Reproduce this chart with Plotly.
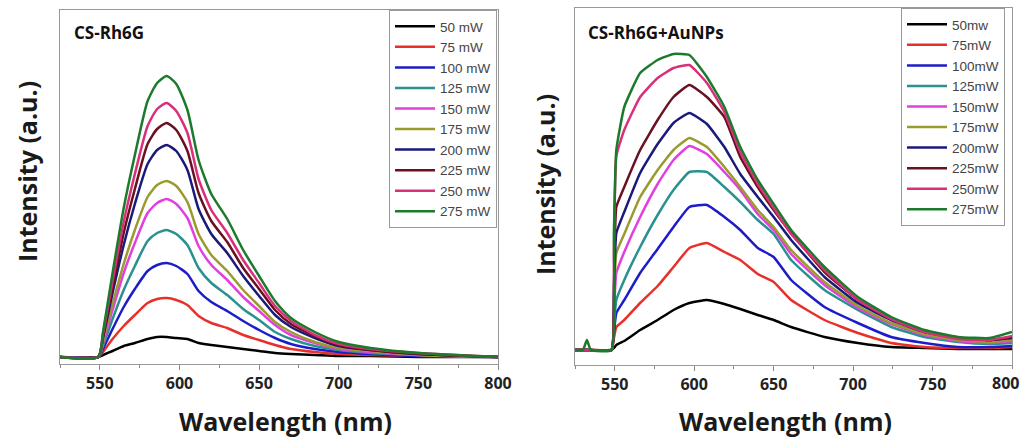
import plotly.graph_objects as go

# ---------------- data (arbitrary intensity units) ----------------
powers_left = ["50 mW", "75 mW", "100 mW", "125 mW", "150 mW", "175 mW",
               "200 mW", "225 mW", "250 mW", "275 mW"]
powers_right = ["50mw", "75mW", "100mW", "125mW", "150mW", "175mW",
                "200mW", "225mW", "250mW", "275mW"]
colors = ["#000000", "#e8302a", "#1c1cc8", "#2a9090", "#e040e0", "#9a9a2e",
          "#1a1a7a", "#6a1020", "#d8307a", "#1c7a2c"]

wl_left = [525, 549, 552, 558, 565, 572, 580, 586, 592, 598, 605, 612, 620, 630,
           640, 650, 660, 670, 685, 700, 720, 750, 800]
left_50 = [2, 2, 4, 8, 13, 16, 20, 22, 22, 21, 20, 16, 14, 12, 10, 8, 6, 5, 4, 3, 3, 2, 2]
left_75 = [2, 2, 7, 20, 33, 44, 56, 60, 61, 59, 54, 43, 36, 31, 24, 19, 14, 10, 7, 5, 4, 3, 2]
left_100 = [2, 2, 10, 30, 52, 70, 88, 94, 96, 93, 85, 68, 57, 48, 38, 29, 21, 15, 10, 7, 5, 3, 2]
left_125 = [2, 2, 13, 40, 69, 93, 118, 126, 129, 125, 114, 91, 76, 64, 50, 39, 27, 20, 13, 9, 6, 4, 2]
left_150 = [2, 2, 16, 49, 86, 116, 146, 156, 160, 155, 141, 113, 94, 79, 62, 48, 34, 24, 16, 10, 7, 4, 2]
left_175 = [2, 2, 18, 55, 95, 129, 162, 174, 178, 173, 157, 125, 104, 88, 69, 53, 37, 27, 17, 11, 8, 4, 2]
left_200 = [2, 2, 21, 66, 114, 155, 195, 209, 214, 208, 189, 150, 125, 106, 83, 63, 44, 32, 21, 13, 9, 5, 2]
left_225 = [2, 2, 23, 72, 126, 170, 215, 230, 236, 229, 208, 166, 138, 117, 91, 70, 49, 35, 23, 14, 9, 5, 2]
left_250 = [2, 2, 25, 78, 137, 185, 233, 250, 256, 248, 226, 180, 149, 126, 99, 76, 53, 38, 24, 15, 10, 6, 2]
left_275 = [2, 2, 27, 86, 151, 204, 258, 276, 283, 275, 249, 199, 165, 140, 109, 83, 58, 41, 27, 17, 11, 6, 2]

wl_right = [525, 530, 532.5, 535, 548, 549.5, 551, 556, 566, 577, 587, 597, 608, 619,
            629, 640, 650, 661, 682, 703, 724, 745, 766, 786, 800]
right_50 = [2, 2, 2, 2, 2, 4, 7, 11, 22, 32, 42, 49, 52, 48, 43, 37, 32, 25, 15, 9, 5, 4, 3, 3, 3]
right_75 = [2, 2, 2, 2, 2, 14, 25, 32, 49, 66, 85, 104, 109, 100, 92, 78, 70, 52, 32, 19, 9, 5, 4, 4, 5]
right_100 = [2, 2, 2, 2, 2, 20, 39, 52, 79, 103, 125, 145, 147, 135, 122, 104, 95, 72, 45, 29, 15, 9, 5, 5, 6]
right_125 = [2, 2, 2, 2, 2, 26, 52, 72, 105, 137, 162, 180, 180, 165, 150, 132, 118, 92, 62, 42, 25, 15, 10, 8, 9]
right_150 = [2, 2, 2, 2, 2, 40, 79, 100, 135, 168, 192, 206, 198, 180, 162, 138, 122, 98, 67, 44, 28, 17, 11, 9, 11]
right_175 = [2, 2, 2, 2, 2, 50, 99, 118, 155, 182, 202, 214, 205, 185, 165, 142, 125, 102, 70, 46, 29, 18, 12, 10, 12]
right_200 = [2, 2, 2, 2, 2, 60, 119, 140, 179, 208, 229, 239, 228, 205, 178, 155, 135, 112, 75, 49, 32, 20, 14, 12, 14]
right_225 = [2, 2, 2, 2, 2, 70, 145, 165, 202, 232, 255, 267, 255, 235, 195, 165, 142, 119, 80, 52, 33, 21, 14, 12, 15]
right_250 = [2, 2, 2, 2, 2, 100, 196, 222, 255, 274, 284, 287, 269, 240, 200, 168, 144, 118, 82, 52, 33, 20, 13, 12, 16]
right_275 = [2, 2, 12, 2, 2, 120, 202, 245, 279, 292, 298, 297, 275, 245, 205, 172, 148, 122, 85, 55, 35, 22, 15, 14, 20]

left_series = [left_50, left_75, left_100, left_125, left_150,
               left_175, left_200, left_225, left_250, left_275]
right_series = [right_50, right_75, right_100, right_125, right_150,
                right_175, right_200, right_225, right_250, right_275]

x_ticks = [550, 600, 650, 700, 750, 800]
title_left = "CS-Rh6G"
title_right = "CS-Rh6G+AuNPs"
x_title = "Wavelength (nm)"
y_title = "Intensity (a.u.)"

W, H = 1024, 441
def px(x):
    return x / W
def py(y):
    return 1 - y / H

# ---------------- figure ----------------
fig = go.Figure()
for name, col, ys in zip(powers_left, colors, left_series):
    fig.add_trace(go.Scatter(x=wl_left, y=ys, name=name, mode="lines",
                             line=dict(color=col, width=2.5, shape="spline", smoothing=0.6),
                             xaxis="x", yaxis="y", legend="legend"))
for name, col, ys in zip(powers_right, colors, right_series):
    fig.add_trace(go.Scatter(x=wl_right, y=ys, name=name, mode="lines",
                             line=dict(color=col, width=2.5, shape="spline", smoothing=0.4),
                             xaxis="x2", yaxis="y2", legend="legend2"))

font_family = "Open Sans, Lato, DejaVu Sans, sans-serif"
tick_font = dict(family=font_family, size=16, color="#222", weight="bold")
xax = dict(range=[525, 800], tickmode="array", tickvals=x_ticks, ticks="outside", ticklen=5,
           tickcolor="#888", showline=True, linecolor="#999", linewidth=1.2, mirror=True,
           showgrid=False, zeroline=False, automargin=False,
           minor=dict(tick0=525, dtick=25, ticks="outside", ticklen=3, tickcolor="#888"),
           tickfont=tick_font)
yax = dict(showticklabels=False, ticks="", showline=True, linecolor="#999", linewidth=1.2,
           mirror=True, showgrid=False, zeroline=False, automargin=False)

title_font = dict(family=font_family, size=25, color="#1a1a1a", weight="bold")
legend_font = dict(family="Liberation Sans, Arial, sans-serif", size=13.5, color="#444")

fig.update_layout(
    width=W, height=H, margin=dict(l=0, r=0, t=0, b=0, autoexpand=False),
    paper_bgcolor="white", plot_bgcolor="white",
    xaxis=dict(xax, domain=[px(60), px(498)], anchor="y"),
    yaxis=dict(yax, domain=[py(364), py(10)], range=[-5, 349], anchor="x"),
    xaxis2=dict(xax, domain=[px(575), px(1012)], anchor="y2", tickvals=x_ticks[:-1]),
    yaxis2=dict(yax, domain=[py(365), py(8)], range=[-13, 344], anchor="x2"),
    legend=dict(x=px(497), y=py(10), xanchor="right", yanchor="top",
                bordercolor="#999", borderwidth=1, bgcolor="white",
                font=legend_font, tracegroupgap=0, itemwidth=40),
    legend2=dict(x=px(1005), y=py(8), xanchor="right", yanchor="top",
                 bordercolor="#999", borderwidth=1, bgcolor="white",
                 font=legend_font, tracegroupgap=0, itemwidth=40),
    annotations=[
        dict(text=title_left, x=px(72), y=py(33), xref="paper", yref="paper",
             xanchor="left", yanchor="middle", showarrow=False,
             font=dict(family=font_family, size=17, color="#111", weight="bold")),
        dict(text=title_right, x=px(586), y=py(33), xref="paper", yref="paper",
             xanchor="left", yanchor="middle", showarrow=False,
             font=dict(family=font_family, size=17, color="#111", weight="bold")),
        # last tick label of the right panel, nudged to stay inside the page
        dict(text=str(x_ticks[-1]), x=x_ticks[-1], xref="x2", y=py(383), yref="paper",
             xanchor="center", yanchor="middle", showarrow=False, font=tick_font,
             xshift=-7),
        dict(text=x_title, x=px(285), y=py(421), xref="paper", yref="paper",
             xanchor="center", yanchor="middle", showarrow=False, font=title_font),
        dict(text=x_title, x=px(785), y=py(421), xref="paper", yref="paper",
             xanchor="center", yanchor="middle", showarrow=False, font=title_font),
        dict(text=y_title, x=px(27), y=py(172), xref="paper", yref="paper",
             xanchor="center", yanchor="middle", showarrow=False, textangle=-90,
             font=title_font),
        dict(text=y_title, x=px(545), y=py(185), xref="paper", yref="paper",
             xanchor="center", yanchor="middle", showarrow=False, textangle=-90,
             font=title_font),
    ],
)

fig.write_html("out.html", config={"displayModeBar": False},
               post_script="document.body.style.margin='0';document.body.style.padding='0';")
